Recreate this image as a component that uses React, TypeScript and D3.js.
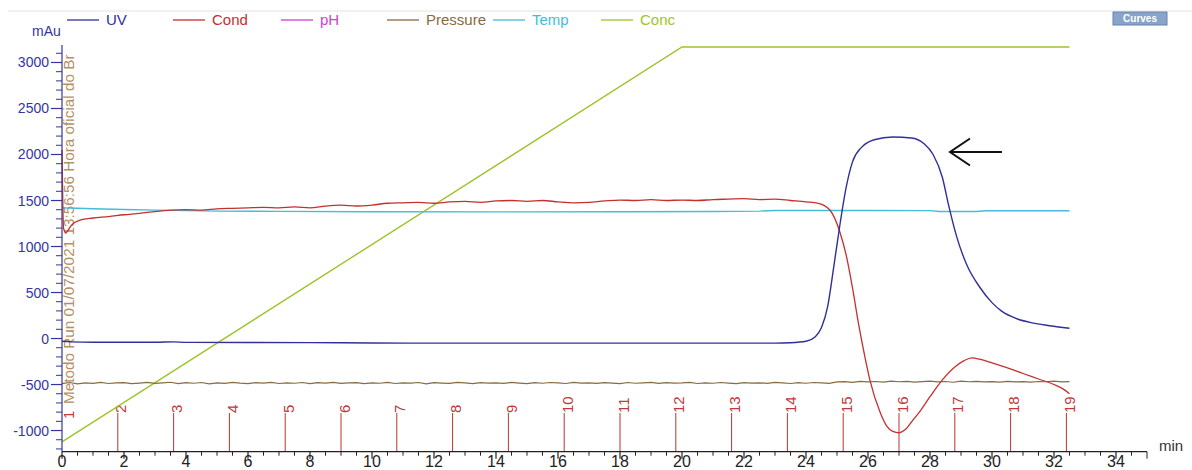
import * as d3 from "d3";

const W = 1192;
const H = 470;
const FONT = "Arial, 'Liberation Sans', sans-serif";

// ---- data (time in min, value in mAu scale) ----
const UV: [number, number][] = [
  [0, -30], [0.3, -36], [1, -40], [3, -40], [3.6, -36], [4, -42], [8, -45], [10, -48],
  [12, -50], [16, -50], [20, -50], [23, -50], [23.5, -46], [24.0, -30], [24.3, 20],
  [24.5, 120], [24.7, 350], [24.9, 790], [25.1, 1250], [25.3, 1650], [25.5, 1920],
  [25.8, 2080], [26.2, 2160], [26.8, 2190], [27.4, 2180], [27.8, 2120], [28.1, 2000],
  [28.4, 1750], [28.6, 1450], [28.86, 1107], [29.2, 790], [29.6, 560], [30.0, 390],
  [30.3, 300], [30.8, 215], [31.3, 170], [31.8, 142], [32.5, 112],
];

const COND: [number, number][] = [
  [0, 2050], [0.05, 1200], [0.12, 1150], [0.3, 1230], [0.6, 1290], [1, 1310], [1.5, 1325],
  [2, 1345], [2.5, 1360], [3, 1380], [3.5, 1395], [4, 1400], [4.5, 1395], [5, 1410],
  [5.5, 1415], [6, 1420], [6.5, 1425], [7, 1420], [7.5, 1430], [8, 1420], [8.5, 1440],
  [9, 1450], [9.5, 1440], [10, 1450], [10.5, 1470], [11, 1475], [11.5, 1480], [12, 1470],
  [12.5, 1485], [13, 1490], [13.5, 1480], [14, 1495], [14.5, 1500], [15, 1490], [15.5, 1500],
  [16, 1485], [16.5, 1475], [17, 1480], [17.5, 1495], [18, 1505], [18.5, 1500], [19, 1510],
  [19.5, 1500], [20, 1505], [20.5, 1500], [21, 1510], [21.5, 1515], [22, 1520], [22.5, 1510],
  [23, 1515], [23.5, 1500], [24, 1485], [24.4, 1470], [24.77, 1397], [25.1, 1150],
  [25.3, 900], [25.5, 550], [25.7, 150], [25.9, -200], [26.06, -450], [26.4, -810],
  [26.6, -950], [26.8, -1010], [27.0, -1025], [27.2, -990], [27.45, -886], [27.7, -780],
  [28.0, -632], [28.4, -450], [28.8, -310], [29.1, -240], [29.35, -210], [29.6, -225],
  [30, -265], [30.5, -320], [31, -380], [31.5, -440], [32, -500], [32.3, -550], [32.5, -600],
];

const TEMP: [number, number][] = [
  [0, 1420], [0.5, 1415], [1, 1410], [2, 1402], [3, 1395], [4, 1390], [5, 1385], [7, 1382],
  [10, 1378], [14, 1376], [18, 1377], [21, 1380], [22.5, 1385], [23, 1392], [26, 1392],
  [28, 1390], [28.3, 1380], [29.5, 1380], [29.8, 1388], [32.5, 1388],
];

const CONC: [number, number][] = [[0, -1124], [20, 3168], [32.5, 3168]];

// pressure trace, sampled every 0.25 min from 0 to 32.5
const PRESSURE_STEP = 0.25;
const PRESSURE = [
  -490, -478, -492, -481, -487, -476, -489, -483, -479, -491,
  -484, -477, -488, -482, -475, -490, -480, -486, -478, -493,
  -481, -487, -476, -484, -490, -479, -485, -477, -489, -482,
  -486, -478, -491, -480, -484, -476, -488, -483, -479, -490,
  -482, -486, -477, -489, -481, -485, -478, -492, -480, -484,
  -487, -476, -483, -490, -479, -485, -481, -488, -477, -484,
  -490, -480, -486, -478, -483, -489, -476, -485, -481, -487,
  -479, -484, -491, -478, -486, -482, -477, -488, -480, -485,
  -483, -476, -489, -481, -486, -478, -484, -490, -479, -485,
  -481, -487, -477, -483, -489, -480, -486, -478, -482, -488,
  -472, -468, -476, -465, -471, -467, -474, -463, -470, -466,
  -473, -469, -464, -471, -467, -475, -462, -470, -466, -472,
  -468, -474, -465, -471, -469, -473, -467, -470, -464, -472,
  -468,
];

const FRACTION_TIMES = [
  0, 1.8, 3.6, 5.4, 7.2, 9.0, 10.8, 12.6, 14.4, 16.2, 18.0, 19.8, 21.6, 23.4, 25.2, 27.0,
  28.8, 30.6, 32.4,
];
const FRACTION_LABELS = [
  "1", "2", "3", "4", "5", "6", "7", "8", "9", "10", "11", "12", "13", "14", "15", "16",
  "17", "18", "19",
];

const LEGEND = [
  { name: "UV", color: "#30309a", x: 67 },
  { name: "Cond", color: "#c4302e", x: 173 },
  { name: "pH", color: "#d040d0", x: 281 },
  { name: "Pressure", color: "#8a6a40", x: 387 },
  { name: "Temp", color: "#46bcd8", x: 493 },
  { name: "Conc", color: "#9cc52a", x: 601 },
];

const X_MAJOR = d3.range(0, 35, 2);
const Y_MAJOR = [-1000, -500, 0, 500, 1000, 1500, 2000, 2500, 3000];

export default function App() {
  const x = d3.scaleLinear().domain([0, 35]).range([62, 1147]);
  const y = d3.scaleLinear().domain([-1230, 3190]).range([451.7, 45]);
  const x0 = x(0);
  const yBase = y(-1230);

  const smooth = d3
    .line<[number, number]>()
    .x((d) => x(d[0]))
    .y((d) => y(d[1]))
    .curve(d3.curveMonotoneX);
  const straight = d3
    .line<[number, number]>()
    .x((d) => x(d[0]))
    .y((d) => y(d[1]));

  const pressurePts: [number, number][] = PRESSURE.map((v, i) => [i * PRESSURE_STEP, v]);

  const xMinor = d3.range(0, 35.01, 0.5).filter((t) => t % 2 !== 0);
  const yMinor = d3.range(-1200, 3101, 100).filter((v) => v % 500 !== 0);

  return (
    <svg
      width={W}
      height={H}
      style={{ position: "absolute", left: 0, top: 0, background: "#fff" }}
      fontFamily={FONT}
    >
      {/* top separator */}
      <line x1={8} x2={W} y1={11} y2={11} stroke="#e2e2e2" strokeWidth={1} />

      {/* legend */}
      {LEGEND.map((l) => (
        <g key={l.name}>
          <line x1={l.x} x2={l.x + 32} y1={20} y2={20} stroke={l.color} strokeWidth={1.3} />
          <text x={l.x + 39} y={25} fontSize={15} fill={l.color}>
            {l.name}
          </text>
        </g>
      ))}

      {/* Curves button */}
      <rect x={1113} y={12} width={54} height={13} fill="#88a4cb" stroke="#6a84aa" strokeWidth={1} />
      <text x={1140} y={22} fontSize={10} fontWeight="bold" fill="#fff" textAnchor="middle">
        Curves
      </text>

      <text x={32} y={36} fontSize={14} fill="#3535a0">
        mAu
      </text>

      {/* run annotation */}
      <text transform={`translate(${x0 + 11.5},${404}) rotate(-90)`} fontSize={15.3} fill="#b59060">
        Metodo Run 01/07/2021 13:56:56 Hora oficial do Br
      </text>

      {/* fraction markers */}
      {FRACTION_TIMES.map((t, i) => (
        <g key={"f" + i}>
          {i > 0 && (
            <line x1={x(t)} x2={x(t)} y1={yBase} y2={413} stroke="#b83434" strokeWidth={1} />
          )}
          <text
            transform={`translate(${x(t) + (i === 0 ? 11.5 : 8.5)},${i === 0 ? 419 : 413}) rotate(-90)`}
            fontSize={15}
            fill="#c03838"
          >
            {FRACTION_LABELS[i]}
          </text>
        </g>
      ))}

      {/* curves */}
      <path d={straight(CONC) || ""} fill="none" stroke="#9cc52a" strokeWidth={1.4} />
      <path d={straight(pressurePts) || ""} fill="none" stroke="#8a6a40" strokeWidth={1.2} />
      <path d={straight(TEMP) || ""} fill="none" stroke="#46bcd8" strokeWidth={1.4} />
      <path d={smooth(COND) || ""} fill="none" stroke="#c4302e" strokeWidth={1.3} />
      <path d={smooth(UV) || ""} fill="none" stroke="#30309a" strokeWidth={1.4} />

      {/* y axis */}
      <line x1={x0} x2={x0} y1={yBase} y2={45} stroke="#34349a" strokeWidth={1.2} />
      {Y_MAJOR.map((v) => (
        <g key={"ym" + v}>
          <line x1={x0 - 11} x2={x0} y1={y(v)} y2={y(v)} stroke="#34349a" strokeWidth={1.2} />
          <text x={x0 - 13} y={y(v) + 5} fontSize={14} fill="#3535a0" textAnchor="end">
            {v}
          </text>
        </g>
      ))}
      {yMinor.map((v) => (
        <line key={"yn" + v} x1={x0 - 6} x2={x0} y1={y(v)} y2={y(v)} stroke="#34349a" strokeWidth={1} />
      ))}

      {/* x axis */}
      <line x1={x0} x2={x(35)} y1={yBase} y2={yBase} stroke="#222" strokeWidth={1.2} />
      {X_MAJOR.map((t) => (
        <g key={"xm" + t}>
          <line x1={x(t)} x2={x(t)} y1={yBase} y2={yBase + 7} stroke="#222" strokeWidth={1.2} />
          <text x={x(t)} y={467} fontSize={16} fill="#222" textAnchor="middle">
            {t}
          </text>
        </g>
      ))}
      {xMinor.map((t) => (
        <line
          key={"xn" + t}
          x1={x(t)}
          x2={x(t)}
          y1={yBase}
          y2={yBase + (t === 35 ? 7 : 4)}
          stroke="#222"
          strokeWidth={1}
        />
      ))}
      <text x={1159} y={451} fontSize={15} fill="#333">
        min
      </text>

      {/* peak arrow */}
      <g stroke="#111" strokeWidth={2} fill="none">
        <line x1={950} x2={1002} y1={152} y2={152} />
        <polyline points="970,138.5 950,152 970,165.5" />
      </g>
    </svg>
  );
}
